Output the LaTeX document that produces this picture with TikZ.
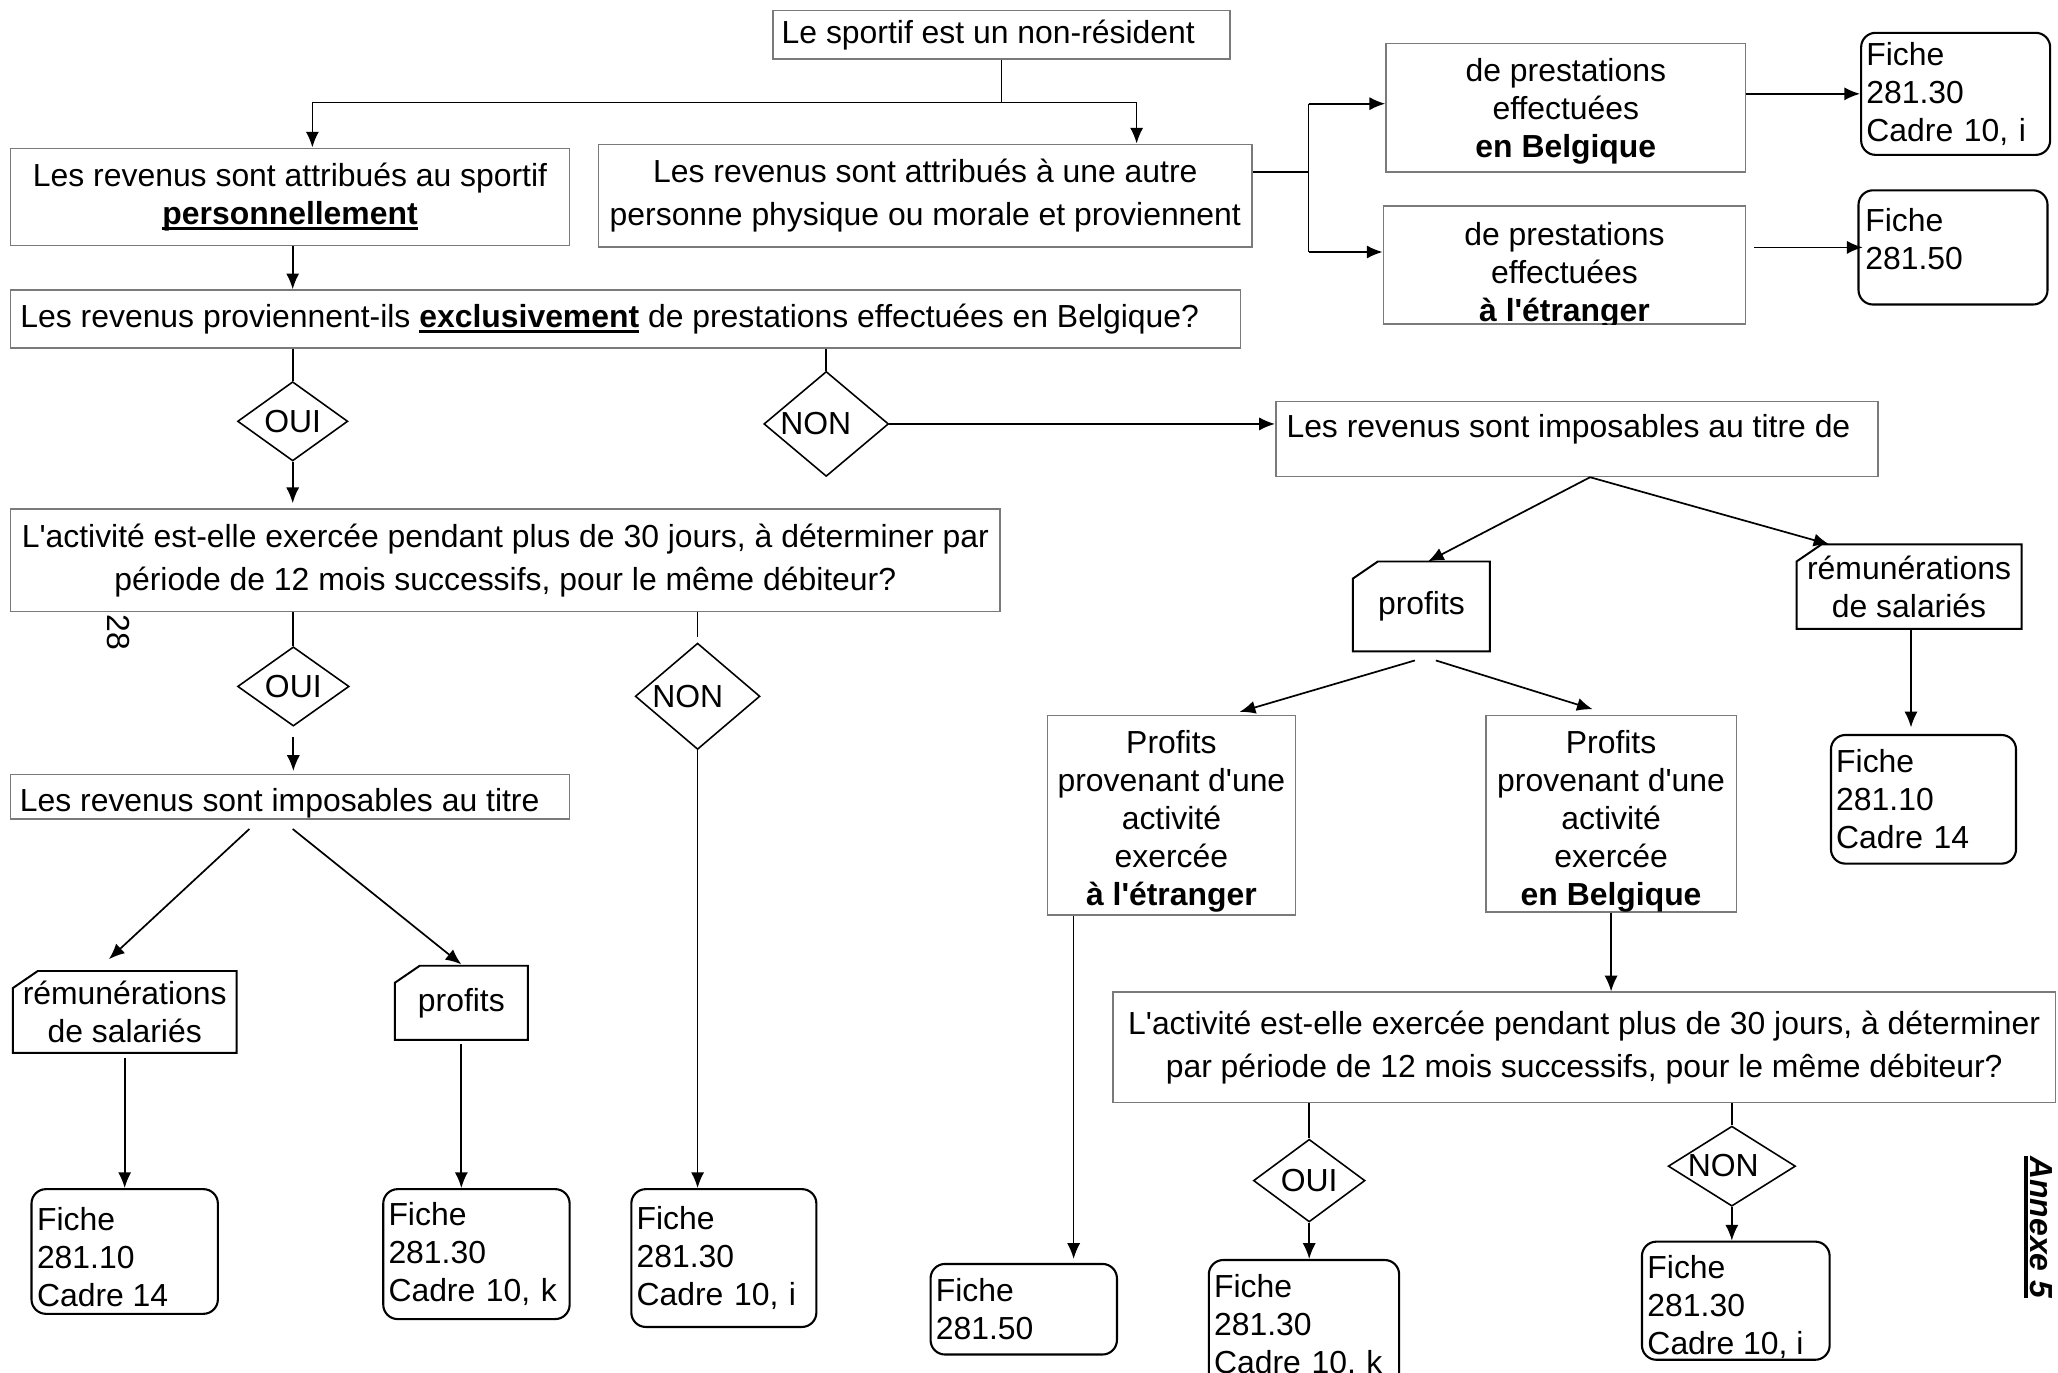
\documentclass[tikz,border=0pt]{standalone}
\usepackage{fontspec}
\setmainfont{Liberation Sans}[Ligatures=TeXOff]
\usetikzlibrary{shapes.geometric,arrows.meta}
\definecolor{boxgray}{HTML}{7A7A7A}
\newsavebox\ulbox
\newcommand\ulb[1]{\sbox\ulbox{\bfseries #1}\rlap{\rule[-4.5pt]{\wd\ulbox}{2.4pt}}\usebox\ulbox}
\newcommand\nonlbl[2]{\makebox[0pt]{\kern-#1\raisebox{#2}{NON}}}
\begin{document}
\begin{tikzpicture}[x=1pt,y=-1pt,
  every node/.style={font=\fontsize{24.3}{29}\selectfont, inner sep=0pt},
  rbox/.style={draw=boxgray, line width=1.2pt, rectangle},
  cbox/.style={rectangle, align=center},
  cline/.style={draw=black, line width=1.5pt},
  fichebox/.style={draw=black, line width=1.6pt, rounded corners=11pt, align=left, inner xsep=4pt},
  ftext/.style={anchor=west, align=left},
  dia/.style={draw=black, line width=1.2pt, diamond},
  arr/.style={line width=1.3pt, -{Latex[length=12pt,width=10pt]}},
  ln/.style={line width=1.3pt},
  wide/.style={font=\fontsize{24.3}{32.5}\selectfont}
]
\useasboundingbox[fill=white] (0,0) rectangle (1568,1046);

% ---- top part
\node[rbox, minimum width=348, minimum height=37] (top) at (763,26.5) {};
\node[anchor=west] (topt) at ([xshift=7pt]top.west) {Le sportif est un non-résident};

\node[rbox, minimum width=426, minimum height=74, align=center] (A) at (221,150)
  {Les revenus sont attribués au sportif\\\ulb{personnellement}};
\node[rbox, minimum width=498, minimum height=78, align=center, wide] (B) at (705,149)
  {Les revenus sont attribués à une autre\\personne physique ou morale et proviennent};

\node[rbox, minimum width=274, minimum height=98] (C1) at (1193,82) {};
\node[align=center] (C1t) at (1193,85) {de prestations\\effectuées\\\textbf{en Belgique}};
\node[rbox, minimum width=276, minimum height=90] (C2) at (1192,202) {};
\begin{scope}
  \clip (C2.north west) rectangle (C2.south east);
  \node[align=center] (C2t) at (1192,210) {de prestations\\effectuées\\\textbf{à l'étranger}};
\end{scope}

\node[fichebox, text width=136, minimum height=93] (F1) at (1490,71.5) {Fiche\\281.30\\Cadre 10, i};
\node[fichebox, minimum width=144, minimum height=87] (F2) at (1488,188.5) {};
\node[ftext] (F2t) at (1421,182) {Fiche\\281.50};

\node[rbox, minimum width=937, minimum height=44] (D) at (476.5,243) {};
\node[anchor=west] (Dt) at ([xshift=8pt]D.west)
  {Les revenus proviennent-ils \ulb{exclusivement} de prestations effectuées en Belgique?};

% ---- diamonds row 1
\node[dia, minimum width=84, minimum height=60] (oui1) at (223,321) {OUI};
\node[dia, minimum width=95, minimum height=80] (non1) at (629.5,323) {\nonlbl{16pt}{-2pt}};

\node[rbox, minimum width=459, minimum height=57] (E) at (1201.5,334.5) {};
\node[anchor=west] (Et) at (980,327) {Les revenus sont imposables au titre de};

\node[rbox, minimum width=754, minimum height=78, align=center, wide] (G) at (385,427)
  {L'activité est-elle exercée pendant plus de 30 jours, à déterminer par\\période de 12 mois successifs, pour le même débiteur?};
\node[rotate=-90] (pg) at (90,482) {28};

\node[dia, minimum width=85, minimum height=58] (oui2) at (223.5,523) {OUI};
\node[dia, minimum width=95, minimum height=81] (non2) at (531.5,530.5) {\nonlbl{15pt}{-2pt}};

\node[rbox, minimum width=426, minimum height=34] (H) at (221,607) {};
\begin{scope}
  \clip (H.north west) rectangle (H.south east);
  \node[anchor=west] (Ht) at (15,612) {Les revenus sont imposables au titre};
\end{scope}

% ---- chamfered boxes
\node[cbox, minimum width=170, minimum height=62] (I1) at (95,771) {rémunérations\\de salariés};
\node[cbox, minimum width=101, minimum height=56] (I2) at (351.5,764) {profits};
\node[cbox, minimum width=104, minimum height=68] (K1) at (1083,462) {profits};
\node[cbox, minimum width=171, minimum height=64] (K2) at (1454.5,447) {rémunérations\\de salariés};
\foreach \n in {I1,I2,K1,K2}{
  \draw[cline] ([yshift=-13pt]\n.north west) -- ([xshift=19pt]\n.north west) -- (\n.north east)
     -- (\n.south east) -- (\n.south west) -- cycle;
}

% ---- fiche boxes bottom left
\node[fichebox, minimum width=142, minimum height=95] (J1) at (95,953.5) {};
\node[ftext] (J1t) at (28,957.5) {Fiche\\281.10\\Cadre 14};
\node[fichebox, text width=134, minimum height=99] (J2) at (363,955.5) {Fiche\\281.30\\Cadre 10, k};
\node[fichebox, text width=133, minimum height=105] (J3) at (551.5,958.5) {Fiche\\281.30\\Cadre 10, i};

% ---- right middle
\node[rbox, minimum width=189, minimum height=152] (L1) at (892.5,621) {};
\node[align=center] (L1t) at (892.5,626)
  {Profits\\provenant d'une\\activité\\exercée\\\textbf{à l'étranger}};
\node[rbox, minimum width=191, minimum height=150] (L2) at (1227.5,620) {};
\begin{scope}
  \clip (L2.north west) rectangle (L2.south east);
  \node[align=center] (L2t) at (1227.5,626) {Profits\\provenant d'une\\activité\\exercée\\\textbf{en Belgique}};
\end{scope}

\node[fichebox, text width=133, minimum height=98] (M) at (1465.5,609) {Fiche\\281.10\\Cadre 14};
\node[fichebox, text width=134, minimum height=69] (N) at (780,997.5) {Fiche\\281.50};

\node[rbox, minimum width=718, minimum height=84, align=center, wide] (P) at (1207,798)
  {L'activité est-elle exercée pendant plus de 30 jours, à déterminer\\par période de 12 mois successifs, pour le même débiteur?};

\node[dia, minimum width=85, minimum height=63] (oui3) at (997.5,899.5) {OUI};
\node[dia, minimum width=97, minimum height=61] (non3) at (1319.5,888.5) {\nonlbl{13pt}{1pt}};

\node[fichebox, text width=137, minimum height=100] (Q) at (993.5,1010) {Fiche\\281.30\\Cadre 10, k};
\node[fichebox, minimum width=143, minimum height=90] (R) at (1322.5,991) {};
\node[ftext] (Rt) at (1255,996) {Fiche\\281.30\\Cadre 10, i};

\node[rotate=-90] (ann) at (1553,935) {\ulb{\itshape Annexe 5}};

% ---- connectors
\coordinate (s1) at (763,78);
\draw[ln] (top.south) -- (s1);
\draw[arr] (s1) -| ([xshift=17pt]A.north);
\draw[arr] (s1) -| ([xshift=161pt]B.north);

\coordinate (bt) at (997,79);
\coordinate (bb) at (997,192);
\draw[ln] ([yshift=18pt]B.east) -- ([yshift=18pt]B.east -| bt);
\draw[ln] (bt) -- (bb);
\draw[arr] (bt) -- (bt -| C1.west);
\draw[arr] (bb) -- (bb -| C2.west);
\draw[arr] (C1.east |- F1.west) -- (F1.west);
\draw[arr] ([xshift=6pt]C2.east |- F2.west) -- ([xshift=4pt]F2.west);

\draw[arr] ([xshift=2pt]A.south) -- ([xshift=2pt]A.south |- D.north);
\draw[ln] (D.south -| oui1.north) -- (oui1.north);
\draw[arr] (oui1.south) -- ([yshift=4pt]oui1.south |- G.north);
\draw[ln] (D.south -| non1.north) -- (non1.north);
\draw[arr] (non1.east) -- (non1.east -| E.west);

\draw[arr] ([xshift=10pt]E.south) -- ([xshift=5pt]K1.north);
\draw[arr] ([xshift=10pt]E.south) -- ([xshift=25pt]K2.north west);
\draw[arr] ([xshift=-5pt,yshift=-7pt]K1.south) -- ([xshift=52pt,yshift=2pt]L1.north);
\draw[arr] ([xshift=11pt,yshift=-7pt]K1.south) -- ([xshift=-14pt,yshift=4pt]L2.north);
\draw[arr] ([xshift=1.5pt]K2.south) -- ([xshift=1.5pt,yshift=5pt]K2.south |- M.north);

\path ([xshift=-74.5pt]L1.south) coordinate (l1s);
\draw[arr] (l1s) -- ([yshift=3pt]l1s |- N.north);
\draw[arr] (L2.south) -- (L2.south |- P.north);
\draw[ln] (P.south -| oui3.north) -- (oui3.north);
\draw[arr] (oui3.south) -- (oui3.south |- Q.north);
\draw[ln] (P.south -| non3.north) -- (non3.north);
\draw[arr] (non3.south) -- (non3.south |- R.north);

\draw[ln] (G.south -| oui2.north) -- (oui2.north);
\draw[arr] ([yshift=-8pt]oui2.south) -- ([yshift=2pt]oui2.south |- H.north);
\draw[ln] (G.south -| non2.north) -- ([yshift=4pt]non2.north);
\draw[arr] (non2.south) -- (non2.south |- J3.north);

\draw[arr] ([xshift=-31pt,yshift=-7pt]H.south) -- ([xshift=-12pt,yshift=9pt]I1.north);
\draw[arr] ([xshift=2pt,yshift=-7pt]H.south) -- ([yshift=1pt]I2.north);
\draw[arr] ([yshift=-4pt]I1.south) -- (I1.south |- J1.north);
\draw[arr] ([yshift=-3pt]I2.south) -- (I2.south |- J2.north);
\end{tikzpicture}
\end{document}
